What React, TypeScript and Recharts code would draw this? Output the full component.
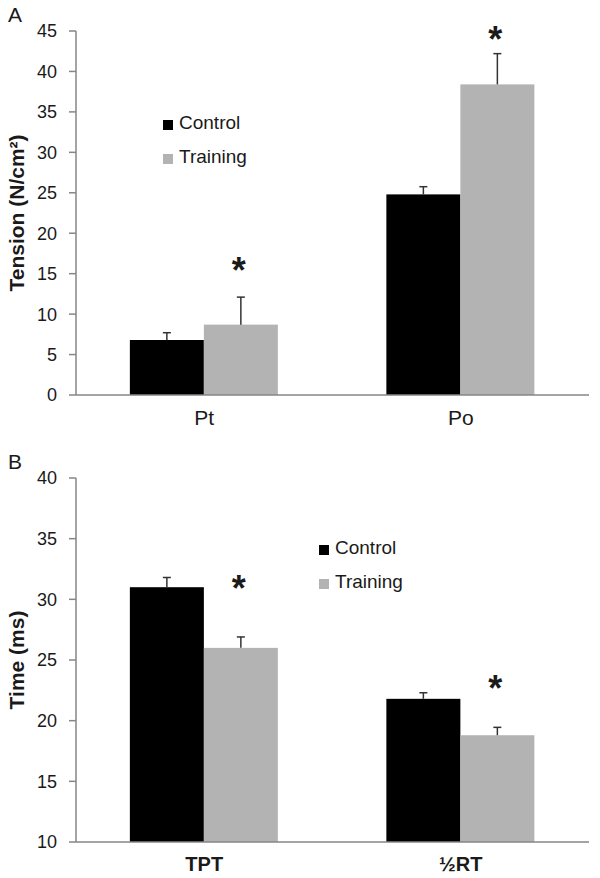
import React from "react";
import { BarChart, Bar, XAxis, YAxis, Legend } from "recharts";

// Panel A: tension
const tensionCategories = ["Pt", "Po"];
const tensionControl = [6.8, 24.8];
const tensionControlErr = [0.9, 0.95];
const tensionTraining = [8.7, 38.4];
const tensionTrainingErr = [3.4, 3.8];
const tensionStars = [16.2, 44.8];
const tensionTicks = [0, 5, 10, 15, 20, 25, 30, 35, 40, 45];

// Panel B: time
const timeCategories = ["TPT", "½RT"];
const timeControl = [31.0, 21.8];
const timeControlErr = [0.8, 0.5];
const timeTraining = [26.0, 18.8];
const timeTrainingErr = [0.9, 0.65];
const timeStars = [31.45, 23.2];
const timeTicks = [10, 15, 20, 25, 30, 35, 40];

const FONT = "'Liberation Sans', Arial, sans-serif";
const AXIS_GRAY = "#868686";
const TEXT = "#1a1a1a";
const BLACK = "#000000";
const GRAY = "#b3b3b3";

function buildRows(cats: string[], ctl: number[], ctlErr: number[], trn: number[], trnErr: number[], stars: number[]) {
  return cats.map((name, i) => ({
    name,
    control: ctl[i],
    controlErr: ctlErr[i],
    training: trn[i],
    trainingErr: trnErr[i],
    star: stars[i],
  }));
}

const tensionData = buildRows(tensionCategories, tensionControl, tensionControlErr, tensionTraining, tensionTrainingErr, tensionStars);
const timeData = buildRows(timeCategories, timeControl, timeControlErr, timeTraining, timeTrainingErr, timeStars);

// bar with an upward-only error bar, optional asterisk, all scaled from the bar's own height
const barShape = (valueKey: string, errKey: string, base: number, withStar: boolean) => (props: any) => {
  const { x, y, width, height, fill, payload } = props;
  const v = payload[valueKey];
  const ppu = height / (v - base);
  const cx = x + width / 2;
  const errTop = y - payload[errKey] * ppu;
  const starY = y - (payload.star - v) * ppu;
  return (
    <g>
      <rect x={x} y={y} width={width} height={height} fill={fill} />
      <line x1={cx} y1={y} x2={cx} y2={errTop} stroke="#333" strokeWidth={1.5} />
      <line x1={cx - 4} y1={errTop} x2={cx + 4} y2={errTop} stroke="#333" strokeWidth={1.5} />
      {withStar && (
        <text x={cx - 2} y={starY + 19} textAnchor="middle" fontFamily={FONT} fontWeight="bold" fontSize={36} fill={TEXT}>
          *
        </text>
      )}
    </g>
  );
};

const legendContent = (props: any) => (
  <div style={{ fontFamily: FONT }}>
    {props.payload.map((p: any) => (
      <div key={p.value} style={{ display: "flex", alignItems: "center", height: 34 }}>
        <span style={{ width: 10, height: 10, background: p.color, marginTop: 3, marginRight: 6 }} />
        <span style={{ fontSize: 19, color: TEXT }}>{p.value}</span>
      </div>
    ))}
  </div>
);

interface PanelProps {
  letter: string;
  data: any[];
  ticks: number[];
  domain: [number, number];
  yLabel: string;
  catBold: boolean;
  legendLeft: number;
  legendTop: number;
  top: number;
}

function Panel({ letter, data, ticks, domain, yLabel, catBold, legendLeft, legendTop, top }: PanelProps) {
  const base = domain[0];
  return (
    <div style={{ position: "absolute", left: 0, top, width: 600, height: 431 }}>
      <div style={{ position: "absolute", left: 8, top: 3, fontFamily: FONT, fontSize: 21, color: TEXT, lineHeight: "24px" }}>
        {letter}
      </div>
      <BarChart
        width={600}
        height={431}
        data={data}
        margin={{ top: 31, right: 11, left: 0, bottom: 0 }}
        barCategoryGap="21%"
        barGap={0}
      >
        <XAxis
          xAxisId="edges"
          type="number"
          domain={[0, 2]}
          ticks={[0, 1, 2]}
          height={0}
          tick={false}
          tickSize={7}
          axisLine={false}
          tickLine={{ stroke: AXIS_GRAY, strokeWidth: 1.5 }}
        />
        <XAxis
          dataKey="name"
          height={36}
          axisLine={{ stroke: AXIS_GRAY, strokeWidth: 1.5 }}
          tickLine={false}
          tickSize={0}
          tickMargin={15}
          tick={{ fontFamily: FONT, fontSize: catBold ? 20 : 21, fontWeight: catBold ? "bold" : "normal", fill: TEXT }}
        />
        <YAxis
          width={76}
          domain={domain}
          ticks={ticks}
          interval={0}
          axisLine={{ stroke: AXIS_GRAY, strokeWidth: 1.5 }}
          tickLine={{ stroke: AXIS_GRAY, strokeWidth: 1.5 }}
          tickSize={7}
          tickMargin={12}
          tick={{ fontFamily: FONT, fontSize: 18, fill: TEXT }}
          label={{
            value: yLabel,
            angle: -90,
            position: "center",
            dx: -21,
            style: { fontFamily: FONT, fontSize: 21, fontWeight: "bold", fill: TEXT },
          }}
        />
        <Legend
          layout="vertical"
          align="center"
          verticalAlign="middle"
          content={legendContent}
          wrapperStyle={{ position: "absolute", left: legendLeft, top: legendTop, width: 150 }}
        />
        <Bar dataKey="control" name="Control" fill={BLACK} isAnimationActive={false} shape={barShape("control", "controlErr", base, false)} />
        <Bar dataKey="training" name="Training" fill={GRAY} isAnimationActive={false} shape={barShape("training", "trainingErr", base, true)} />
      </BarChart>
    </div>
  );
}

export default function App() {
  return (
    <div style={{ position: "absolute", left: 0, top: 0, width: 600, height: 878, background: "#fff" }}>
      <Panel
        letter="A"
        data={tensionData}
        ticks={tensionTicks}
        domain={[0, 45]}
        yLabel="Tension (N/cm²)"
        catBold={false}
        legendLeft={163}
        legendTop={106}
        top={0}
      />
      <Panel
        letter="B"
        data={timeData}
        ticks={timeTicks}
        domain={[10, 40]}
        yLabel="Time (ms)"
        catBold={true}
        legendLeft={319}
        legendTop={84}
        top={447}
      />
    </div>
  );
}
